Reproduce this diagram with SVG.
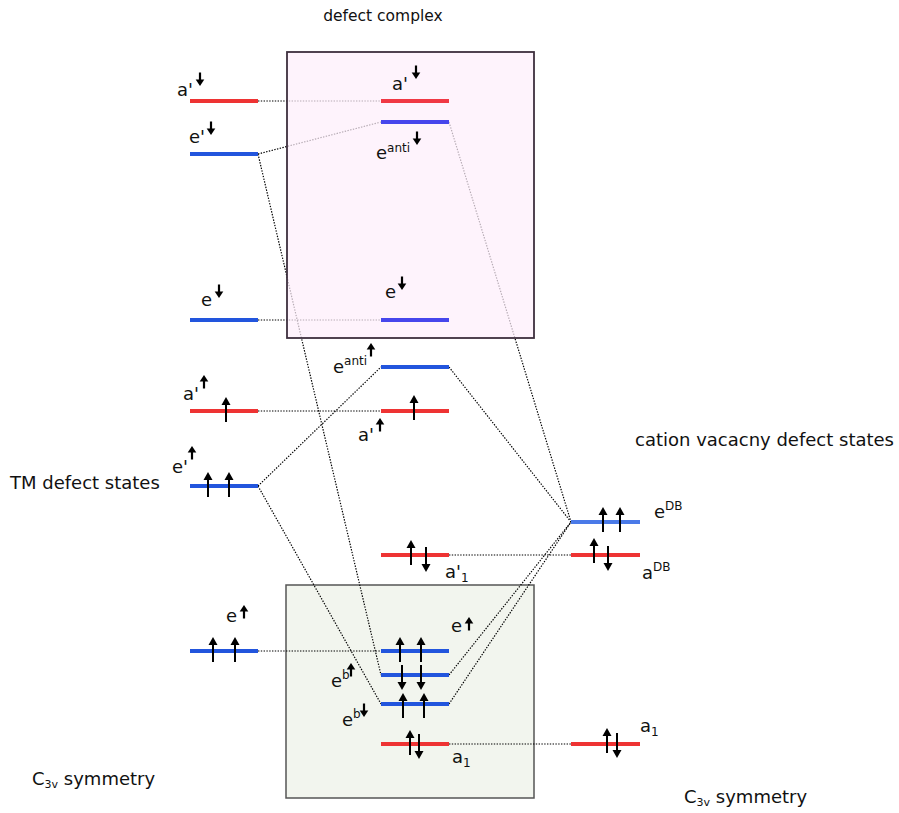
<svg xmlns="http://www.w3.org/2000/svg" xmlns:xlink="http://www.w3.org/1999/xlink" width="899" height="813" viewBox="0 0 899 813">
<style>
text{font-family:"DejaVu Sans",Verdana,sans-serif;fill:#111}
.t{font-size:18px}
.h{font-size:15.5px}
.sup{font-size:12px}
.lv{stroke-width:4;fill:none}
.red{stroke:#ee3333}
.blue{stroke:#2255dd}
.red2{stroke:#f03844}
.blue2{stroke:#4646ec}
.lblue{stroke:#4a7ae8}
.con{stroke:#000;stroke-width:1.2;stroke-dasharray:1.4 1.4;fill:none}
</style>
<defs>
<g id="up"><path d="M0,6V25" stroke="#000" stroke-width="2"/><path d="M0,0L-4.5,8H4.5Z" fill="#000"/></g>
<g id="dn"><path d="M0,-6V-25" stroke="#000" stroke-width="2"/><path d="M0,0L-4.5,-8H4.5Z" fill="#000"/></g>
<g id="sup"><path d="M0,5V13.5" stroke="#000" stroke-width="2.2"/><path d="M0,0L-4.3,6.5H4.3Z" fill="#000"/></g>
<g id="sdn"><path d="M0,-5V-13.5" stroke="#000" stroke-width="2.2"/><path d="M0,0L-4.3,-6.5H4.3Z" fill="#000"/></g>
</defs>

<rect id="box-bottom" x="286" y="585" width="248" height="213" fill="#f2f5ee" stroke="#555" stroke-width="1.5"/>

<g id="connectors">
<path class="con" d="M258,101H381"/>
<path class="con" d="M258,154L381,122"/>
<path class="con" d="M258,154L381,675"/>
<path class="con" d="M258,320H381"/>
<path class="con" d="M258,411H381"/>
<path class="con" d="M258,486L381,367"/>
<path class="con" d="M258,486L381,704"/>
<path class="con" d="M258,651H381"/>
<path class="con" d="M449,122L571,522"/>
<path class="con" d="M449,367L571,522"/>
<path class="con" d="M449,555H571"/>
<path class="con" d="M449,675L571,522"/>
<path class="con" d="M449,704L571,522"/>
<path class="con" d="M449,744H571"/>
</g>

<rect id="box-top" x="287" y="52" width="247" height="286" fill="#fdeefb" fill-opacity="0.72" stroke="#3d2f3d" stroke-width="1.8"/>

<text class="h" x="383" y="21" text-anchor="middle">defect complex</text>
<text class="t" x="10" y="489">TM defect states</text>
<text class="t" x="635" y="446">cation vacacny defect states</text>
<text class="t" x="32" y="785">C<tspan font-size="11" dy="3">3v</tspan><tspan dy="-3"> symmetry</tspan></text>
<text class="t" x="684" y="803">C<tspan font-size="11" dy="3">3v</tspan><tspan dy="-3"> symmetry</tspan></text>

<g id="left-a-dn"><path class="lv red" d="M190,101H258"/><text class="t" x="177" y="96">a'</text><use xlink:href="#sdn" x="200" y="86"/></g>
<g id="left-e-prime-dn"><path class="lv blue" d="M190,154H258"/><text class="t" x="189" y="143">e'</text><use xlink:href="#sdn" x="211" y="135"/></g>
<g id="left-e-dn"><path class="lv blue" d="M190,320H258"/><text class="t" x="201" y="306">e</text><use xlink:href="#sdn" x="219" y="298"/></g>
<g id="left-a-up"><path class="lv red" d="M190,411H258"/><text class="t" x="183" y="400">a'</text><use xlink:href="#sup" x="204" y="375"/><use xlink:href="#up" x="226" y="397"/></g>
<g id="left-e-prime-up"><path class="lv blue" d="M190,486H258"/><text class="t" x="172" y="473">e'</text><use xlink:href="#sup" x="192" y="446"/><use xlink:href="#up" x="208" y="472"/><use xlink:href="#up" x="229" y="472"/></g>
<g id="left-e-up"><path class="lv blue" d="M190,651H258"/><text class="t" x="226" y="622">e</text><use xlink:href="#sup" x="244" y="605"/><use xlink:href="#up" x="213" y="637"/><use xlink:href="#up" x="235" y="637"/></g>

<g id="mid-a-dn"><path class="lv red2" d="M381,101H449"/><text class="t" x="392" y="90">a'</text><use xlink:href="#sdn" x="416" y="79"/></g>
<g id="mid-eanti-dn"><path class="lv blue2" d="M381,122H449"/><text class="t" x="376" y="159">e<tspan class="sup" dy="-7">anti</tspan></text><use xlink:href="#sdn" x="417" y="145"/></g>
<g id="mid-e-dn"><path class="lv blue2" d="M381,320H449"/><text class="t" x="385" y="298">e</text><use xlink:href="#sdn" x="402" y="290"/></g>
<g id="mid-eanti-up"><path class="lv blue" d="M381,367H449"/><text class="t" x="333" y="373">e<tspan class="sup" dy="-8">anti</tspan></text><use xlink:href="#sup" x="371" y="343"/></g>
<g id="mid-a-up"><path class="lv red" d="M381,411H449"/><text class="t" x="358" y="441">a'</text><use xlink:href="#sup" x="380" y="418"/><use xlink:href="#up" x="414" y="395"/></g>
<g id="mid-a1-prime"><path class="lv red" d="M381,555H449"/><text class="t" x="445" y="578">a'<tspan class="sup" dy="4">1</tspan></text><use xlink:href="#up" x="411" y="540"/><use xlink:href="#dn" x="426" y="572"/></g>
<g id="mid-e-up"><path class="lv blue" d="M381,651H449"/><text class="t" x="451" y="632">e</text><use xlink:href="#sup" x="469" y="617"/><use xlink:href="#up" x="400" y="637"/><use xlink:href="#up" x="421" y="637"/></g>
<g id="mid-eb-dn-level"><path class="lv blue" d="M381,675H449"/><use xlink:href="#dn" x="402" y="690"/><use xlink:href="#dn" x="421" y="690"/><text class="t" x="331" y="687">e<tspan class="sup" dy="-8">b</tspan></text><use xlink:href="#sup" x="351" y="663"/></g>
<g id="mid-eb-up-level"><path class="lv blue" d="M381,704H449"/><use xlink:href="#up" x="403" y="693"/><use xlink:href="#up" x="424" y="693"/><text class="t" x="342" y="726">e<tspan class="sup" dy="-8">b</tspan></text><use xlink:href="#sdn" x="364" y="717"/></g>
<g id="mid-a1"><path class="lv red" d="M381,744H449"/><text class="t" x="452" y="763">a<tspan class="sup" dy="4">1</tspan></text><use xlink:href="#up" x="410" y="730"/><use xlink:href="#dn" x="419" y="759"/></g>

<g id="right-eDB"><path class="lv lblue" d="M571,522H640"/><text class="t" x="654" y="518">e<tspan class="sup" dy="-8">DB</tspan></text><use xlink:href="#up" x="603" y="507"/><use xlink:href="#up" x="620" y="507"/></g>
<g id="right-aDB"><path class="lv red" d="M571,555H640"/><text class="t" x="642" y="579">a<tspan class="sup" dy="-8">DB</tspan></text><use xlink:href="#up" x="594" y="538"/><use xlink:href="#dn" x="608" y="571"/></g>
<g id="right-a1"><path class="lv red" d="M571,744H640"/><text class="t" x="640" y="732">a<tspan class="sup" dy="4">1</tspan></text><use xlink:href="#up" x="607" y="728"/><use xlink:href="#dn" x="617" y="758"/></g>
</svg>
